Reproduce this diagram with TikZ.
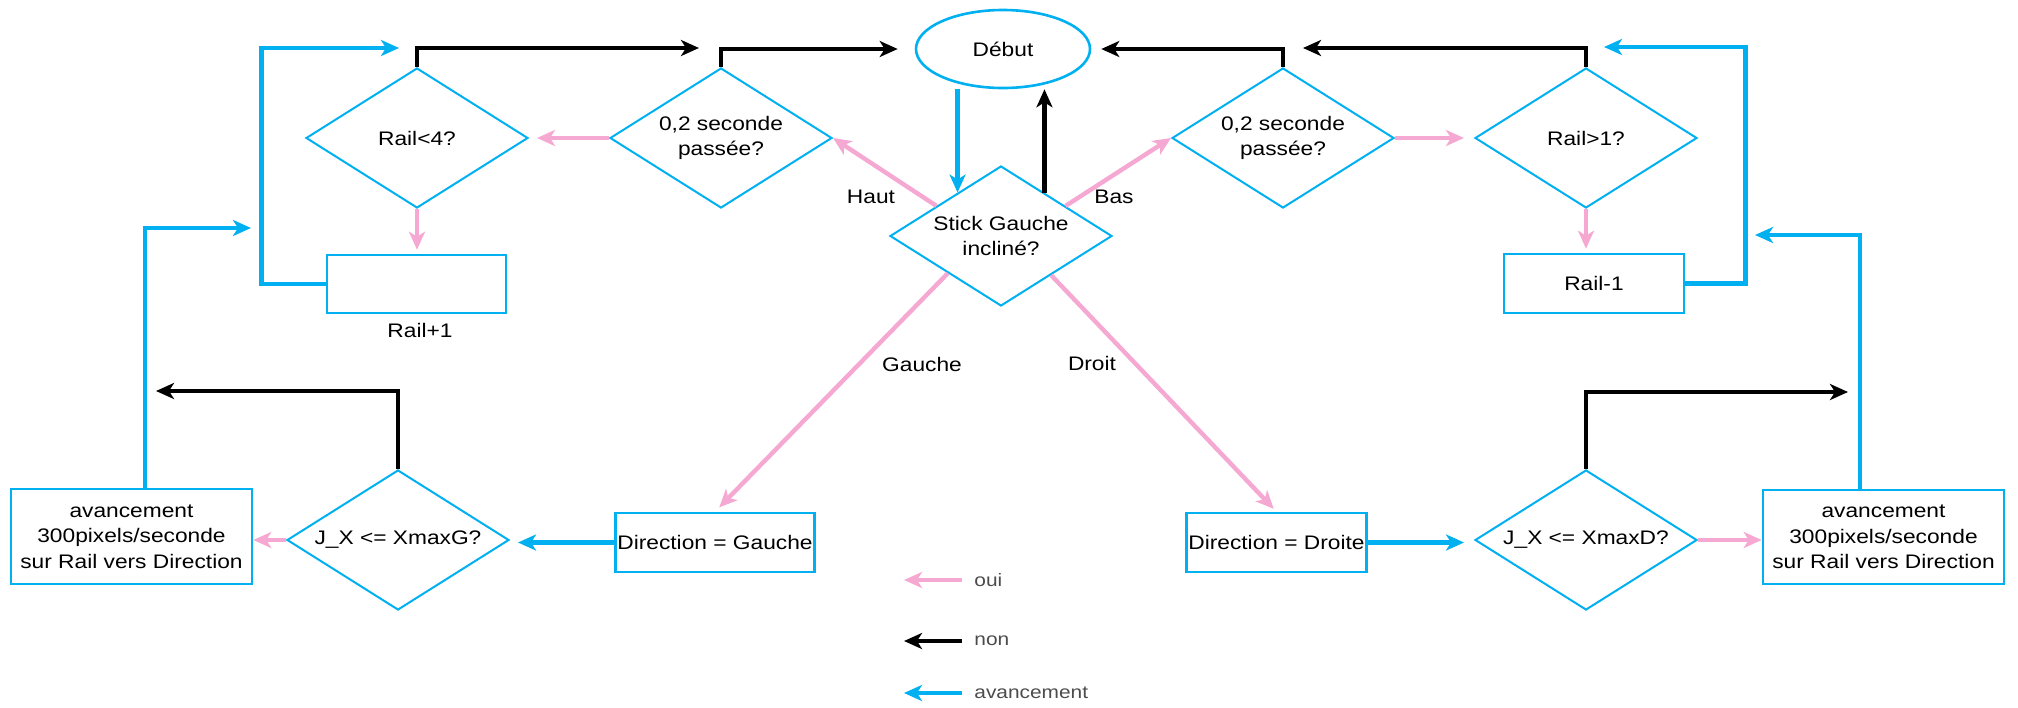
\documentclass[tikz,border=0pt]{standalone}
\usepackage{fontspec}
\setmainfont{Liberation Sans}[FakeStretch=1.16]
\usetikzlibrary{shapes.geometric,arrows.meta}

\definecolor{flowblue}{RGB}{0,176,240}
\definecolor{flowpink}{RGB}{245,168,210}

\tikzset{
  flowtip/.tip={Stealth[length=9pt,width=8pt,inset=2.5pt]},
  every node/.style={font=\fontsize{9.8}{12.8}\selectfont, inner sep=1pt},
  decision/.style={diamond, aspect=1.6, draw=flowblue, line width=1pt, minimum width=111pt, minimum height=70pt, align=center},
  action/.style={rectangle, draw=flowblue, line width=1.3pt, align=center},
  oui/.style={draw=flowpink, line width=2.2pt, -{flowtip}},
  non/.style={draw=black, line width=2.3pt, -{flowtip}},
  avance/.style={draw=flowblue, line width=2.4pt, -{flowtip}},
  legende/.style={text=black!70, font=\fontsize{9}{11}\selectfont},
}

\begin{document}
\begin{tikzpicture}[x=0.5pt,y=0.5pt,yscale=-1]
    \useasboundingbox (0,0) rectangle (2018,707); %page is 2018 x 707

    %Shape: Ellipse
    \node[ellipse, draw=flowblue, line width=1.3pt, minimum width=87pt, minimum height=39pt] (debut) at (1003,49) {Début};

    %Shape: Diamond
    \node[decision] (stick) at (1001,236) {Stick Gauche\\incliné?};
    \node[decision] (passeG) at (721,138) {0,2 seconde\\passée?};
    \node[decision] (passeD) at (1283,138) {0,2 seconde\\passée?};
    \node[decision] (railInf) at (417,138) {Rail<4?};
    \node[decision] (railSup) at (1586,138) {Rail>1?};
    \node[decision] (testG) at (398,540) {J\_X <= XmaxG?};
    \node[decision] (testD) at (1586,540) {J\_X <= XmaxD?};

    %Shape: Rectangle
    \node[action, minimum width=89.5pt, minimum height=29pt] (railPlus) at (416.5,284) {};
    \node[action, minimum width=90pt, minimum height=29.5pt] (railMoins) at (1594,283.5) {Rail-1};
    \node[action, minimum width=90pt, minimum height=29.5pt] (dirG) at (715,542.5) {Direction = Gauche};
    \node[action, minimum width=89.5pt, minimum height=29.5pt] (dirD) at (1276.5,542.5) {Direction = Droite};
    \node[action, minimum width=120.5pt, minimum height=47.5pt] (avG) at (131.5,536.5) {avancement\\300pixels/seconde\\sur Rail vers Direction};
    \node[action, minimum width=120.5pt, minimum height=47pt] (avD) at (1883.5,537) {avancement\\300pixels/seconde\\sur Rail vers Direction};

    % Text Node
    \node (txtRailPlus) at (420,330) {Rail+1};
    \node (haut) at (871,197) {Haut};
    \node (bas) at (1114,197) {Bas};
    \node (gauche) at (922,364) {Gauche};
    \node (droit) at (1092,363) {Droit};

    %free ends of the loops
    \coordinate (retourG) at (399,48);
    \coordinate (versPasseG) at (699,48);
    \coordinate (versPasseD) at (1303,48);
    \coordinate (retourD) at (1604,47);
    \coordinate (finG) at (156,391);
    \coordinate (finD) at (1848,392);
    \coordinate (montG) at (251,228);
    \coordinate (montD) at (1755,235);

    %Straight Lines: start / stick
    \draw[avance] (stick.135 |- debut.south) -- (stick.135);
    \draw[non] (stick.45) -- (stick.45 |- debut.south);
    \draw[oui] (stick.155) -- (passeG.east);
    \draw[oui] (stick.25) -- (passeD.west);
    \draw[oui, shorten >=3pt] (stick.215) -- (dirG.north);
    \draw[oui, shorten >=2pt] (stick.-38) -- (dirD.north);

    %Straight Lines: up side
    \draw[oui, shorten >=4pt] (passeG.west) -- (railInf.east);
    \draw[oui, shorten >=2pt] (railInf.south) -- (railInf.south |- railPlus.north);
    \draw[avance] (railPlus.west) -- ++(-64,0) |- (retourG);
    \draw[non] (railInf.north) |- (versPasseG);
    \draw[non] (passeG.north) |- ([xshift=-8.5pt]debut.west);

    %Straight Lines: down side
    \draw[non] (passeD.north) |- ([xshift=5pt]debut.east);
    \draw[non] (railSup.north) |- (versPasseD);
    \draw[oui, shorten >=5pt] (passeD.east) -- (railSup.west);
    \draw[oui, shorten >=2pt] (railSup.south) -- (railSup.south |- railMoins.north);
    \draw[avance] (railMoins.east) -- ++(60,0) |- (retourD);

    %Straight Lines: left
    \draw[avance, shorten >=4pt] (dirG.west) -- (dirG.west -| testG.east);
    \draw[oui] (testG.west) -- (testG.west -| avG.east);
    \draw[non] (testG.north) |- (finG);
    \draw[avance] ([xshift=6.75pt]avG.north) |- (montG);

    %Straight Lines: right
    \draw[avance, shorten >=5pt] (dirD.east) -- (dirD.east -| testD.west);
    \draw[oui] (testD.east) -- (testD.east -| avD.west);
    \draw[non] (testD.north) |- (finD);
    \draw[avance] ([xshift=-11.75pt]avD.north) |- (montD);

    % Legend
    \node[legende, anchor=west] (legOui) at (972,580) {oui};
    \node[legende, anchor=west] (legNon) at (972,641) {non};
    \node[legende, anchor=west] (legAvance) at (972,693) {avancement};
    \coordinate (flecheOui) at (904,580);
    \coordinate (flecheNon) at (904,641);
    \coordinate (flecheAvance) at (904,693);
    \draw[oui] ([xshift=-5pt]legOui.west) -- (flecheOui);
    \draw[non] ([xshift=-5pt]legNon.west) -- (flecheNon);
    \draw[avance] ([xshift=-5pt]legAvance.west) -- (flecheAvance);

\end{tikzpicture}
\end{document}
